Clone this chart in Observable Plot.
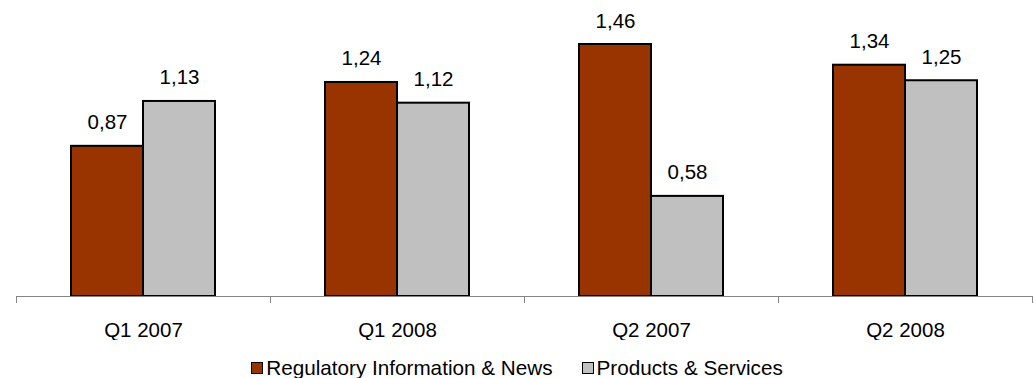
<!DOCTYPE html>
<html>
<head>
<meta charset="utf-8">
<script src="https://cdn.jsdelivr.net/npm/d3@7"></script>
<script src="https://cdn.jsdelivr.net/npm/@observablehq/plot@0.6"></script>
<style>
  body { margin: 0; background: #fff; font-family: "Liberation Sans", Arial, sans-serif; }
  #chart svg { display: block; }
  #legend { margin-top: 17px; display: flex; justify-content: center; align-items: center; font-size: 20.7px; color: #000; line-height: 22px; }
  .item { display: flex; align-items: center; }
  .item + .item { margin-left: 29px; }
  .sw { width: 10px; height: 10px; border: 1.5px solid #000; margin-right: 3px; }
</style>
</head>
<body>
<div id="chart"></div>
<div id="legend"></div>
<script>
const categories = ["Q1 2007", "Q1 2008", "Q2 2007", "Q2 2008"];
const seriesNames = ["Regulatory Information & News", "Products & Services"];
const regulatory = [0.87, 1.24, 1.46, 1.34];
const products = [1.13, 1.12, 0.58, 1.25];
const colors = ["#993300", "#C0C0C0"];

const seriesValues = [regulatory, products];
const rows = [];
categories.forEach((c, i) => {
  seriesNames.forEach((s, j) => rows.push({category: c, series: s, value: seriesValues[j][i]}));
});

const W = 1034, H = 340, mL = 16, mR = 2, mT = 44, mB = 44;
const halfBand = (W - mL - mR) / categories.length / 2;
const fmt = v => v.toFixed(2).replace(".", ",");

const chart = Plot.plot({
  width: W,
  height: H,
  marginLeft: mL,
  marginRight: mR,
  marginTop: mT,
  marginBottom: mB,
  style: {fontFamily: "'Liberation Sans', Arial, sans-serif", fontSize: "20.5px", color: "#000", background: "#fff", fontWeight: "normal"},
  fx: {domain: categories, padding: 0, label: null, axis: null},
  x: {domain: seriesNames, paddingInner: 0, paddingOuter: 0.74, align: 0.5, axis: null},
  y: {domain: [0, 1.46], axis: null},
  color: {domain: seriesNames, range: colors},
  marks: [
    Plot.barY(rows, {fx: "category", x: "series", y: "value", fill: "series", stroke: "#000", strokeWidth: 2}),
    Plot.ruleY([0], {stroke: "#868686", strokeWidth: 1}),
    Plot.text(rows, {fx: "category", x: "series", y: "value", text: d => fmt(d.value), lineAnchor: "bottom", dy: -17, fill: "#000", fontSize: 20.5, fontWeight: "normal"}),
    Plot.axisFx({anchor: "bottom", tickSize: 0, tickPadding: 26, fontSize: 20.5, fontWeight: "normal", label: null, fill: "#000"}),
    Plot.axisFx({anchor: "bottom", tickSize: 7, text: null, label: null, dx: -halfBand, stroke: "#868686"}),
    Plot.axisFx([categories[categories.length - 1]], {anchor: "bottom", tickSize: 7, text: null, label: null, dx: halfBand, stroke: "#868686"})
  ]
});
document.getElementById("chart").appendChild(chart);

const legend = document.getElementById("legend");
seriesNames.forEach((s, j) => {
  const it = document.createElement("div");
  it.className = "item";
  const sw = document.createElement("span");
  sw.className = "sw";
  sw.style.background = colors[j];
  const t = document.createElement("span");
  t.textContent = s;
  it.appendChild(sw);
  it.appendChild(t);
  legend.appendChild(it);
});
</script>
</body>
</html>
